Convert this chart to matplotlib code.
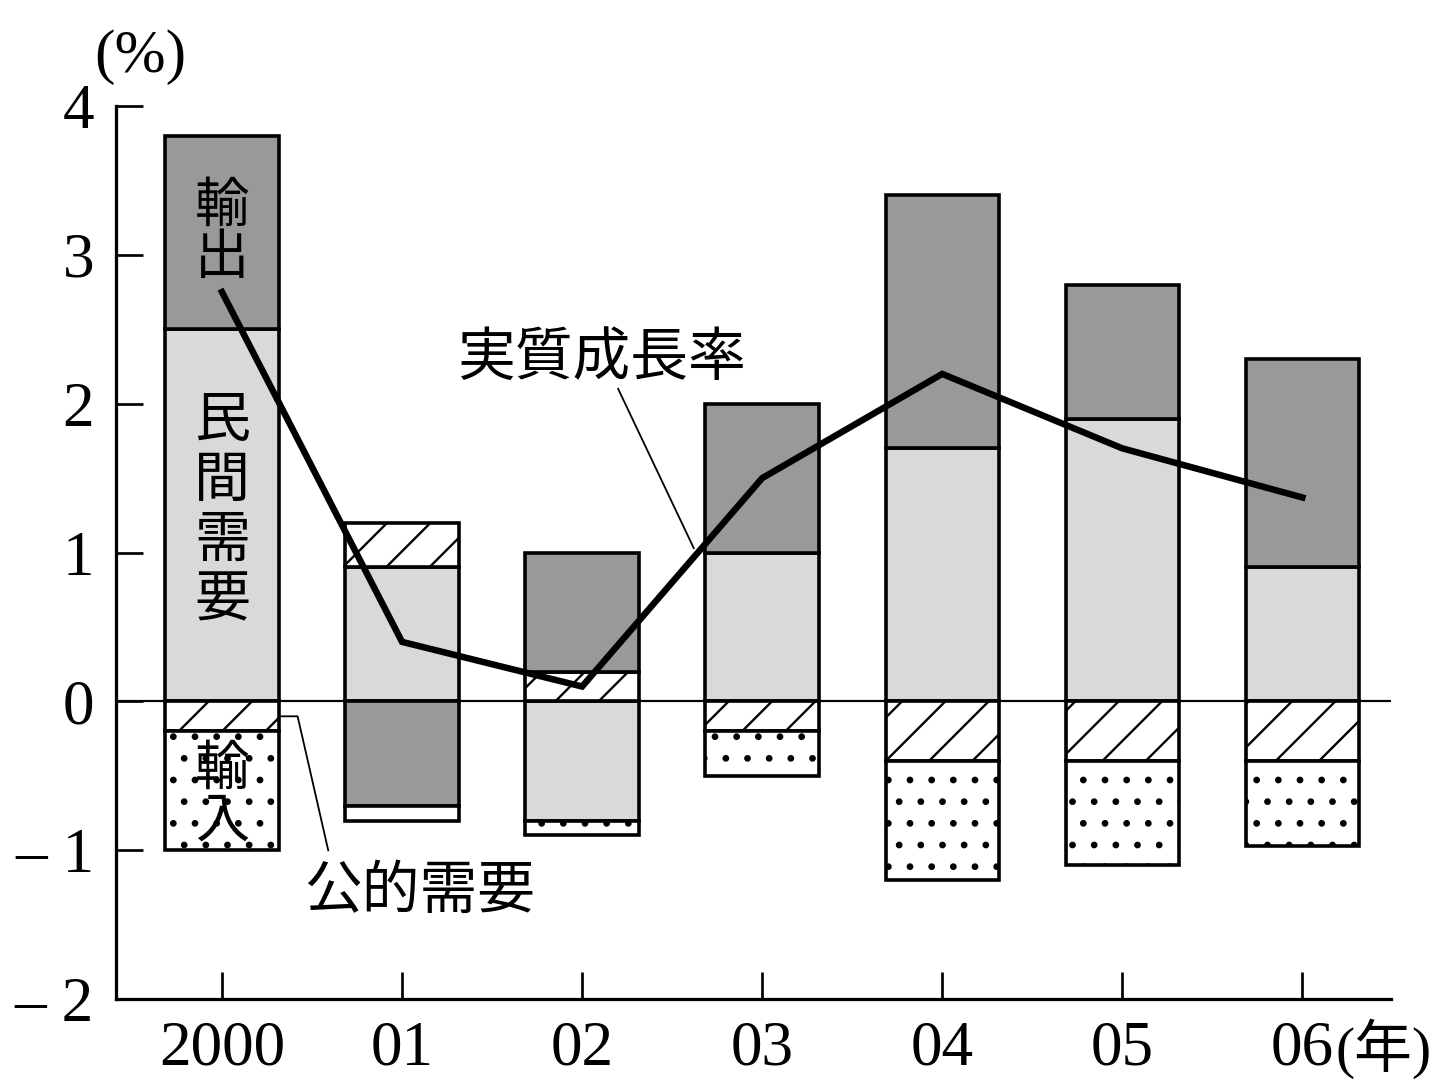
import numpy as np
import matplotlib
matplotlib.use('Agg')
import matplotlib.pyplot as plt

plt.rcParams['font.family'] = ['Liberation Serif', 'Noto Sans CJK JP']
plt.rcParams['hatch.linewidth'] = 1.3
plt.rcParams['hatch.color'] = 'black'

JP = 'Noto Sans CJK JP'

years = ['2000', '01', '02', '03', '04', '05', '06']
minkan = [2.5, 0.9, -0.8, 1.0, 1.7, 1.9, 0.9]      # 民間需要
koteki = [-0.2, 0.3, 0.2, -0.2, -0.4, -0.4, -0.4]  # 公的需要
yushutsu = [1.3, -0.7, 0.8, 1.0, 1.7, 0.9, 1.4]    # 輸出
yunyu = [-0.8, -0.1, -0.1, -0.3, -0.8, -0.7, -0.57]  # 輸入
growth = [2.75, 0.4, 0.1, 1.5, 2.2, 1.7, 1.37]     # 実質成長率

yticks = [-2, -1, 0, 1, 2, 3, 4]
ytick_labels = ['– 2', '– 1', '0', '1', '2', '3', '4']

styles = [
    (minkan, '#d9d9d9', None),
    (koteki, 'white', '/'),
    (yushutsu, '#999999', None),
    (yunyu, 'white', '.'),
]

dpi = 130
fig = plt.figure(figsize=(1447 / dpi, 1092 / dpi), dpi=dpi)
ax = fig.add_axes([0.080, 0.085, 0.881, 0.818])

x = np.arange(len(years))
w = 0.63
pos = np.zeros(len(years))
neg = np.zeros(len(years))
for vals, fc, hatch in styles:
    v = np.array(vals)
    bottom = np.where(v >= 0, pos, neg)
    ax.bar(x, v, w, bottom=bottom, color=fc, edgecolor='black',
           linewidth=2.0, hatch=hatch, zorder=2)
    pos = pos + np.where(v > 0, v, 0)
    neg = neg + np.where(v < 0, v, 0)

ax.axhline(0, color='black', linewidth=1.2, zorder=3)
ax.plot(x, growth, color='black', linewidth=3.6, zorder=4,
        solid_joinstyle='miter')

ax.set_xlim(-0.59, 6.49)
ax.set_ylim(-2, 4)
ax.set_xticks(x)
ax.set_xticklabels(years)
ax.set_yticks(yticks)
ax.set_yticklabels(ytick_labels)
ax.tick_params(direction='in', length=15, width=1.5, labelsize=35)
ax.tick_params(axis='y', pad=12)
ax.tick_params(axis='x', pad=12)
for s in ['top', 'right']:
    ax.spines[s].set_visible(False)
for s in ['left', 'bottom']:
    ax.spines[s].set_linewidth(1.8)

# labels inside bars
ax.text(0, 3.15, '輸\n出', family=JP, fontsize=30, ha='center', va='center',
        linespacing=0.95, zorder=5)
ax.text(0, 1.28, '民\n間\n需\n要', family=JP, fontsize=31, ha='center',
        va='center', linespacing=1.05, zorder=5)
ax.text(0, -0.63, '輸\n入', family=JP, fontsize=30, ha='center', va='center',
        linespacing=0.95, zorder=5)

ax.text(2.11, 2.30, '実質成長率', family=JP, fontsize=32, ha='center',
        va='center', zorder=5)
ax.plot([2.2, 2.62], [2.1, 1.03], color='black', linewidth=1.0, zorder=5)

ax.text(1.10, -1.28, '公的需要', family=JP, fontsize=32, ha='center',
        va='center', zorder=5)
ax.plot([0.32, 0.42, 0.59], [-0.1, -0.1, -1.0], color='black',
        linewidth=1.0, zorder=5)

fig.text(0.097, 0.948, '(%)', fontsize=34, ha='center', va='center')
fig.text(0.956, 0.040, '(年)', fontsize=32, ha='center', va='center')

fig.savefig('out.png', dpi=dpi)
